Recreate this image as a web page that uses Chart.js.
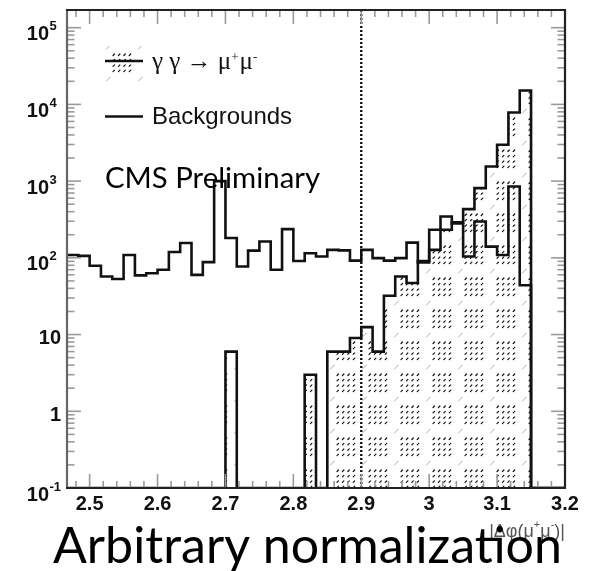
<!DOCTYPE html>
<html><head><meta charset="utf-8">
<script src="https://cdn.jsdelivr.net/npm/chart.js@4/dist/chart.umd.min.js"></script>
<style>html,body{margin:0;padding:0;background:#fff}#wrap{width:593px;height:571px}</style>
</head><body><div id="wrap"><canvas id="c" width="593" height="571"></canvas></div>
<script>
// ---------------- data ----------------
const binLow = 2.4667;      // lower edge of first bin
const binHigh = 3.2;        // upper edge of last bin
const nBins = 44;
const backgroundCounts = [109,106,79,57,53,109,59,63,70,119,156,60,88,1000,181,77,124,163,70,237,91,115,104,127,125,92,127,99,92,99,158,87,232,346,280,104,297,140,109,851,44,0,0,0];
const signalCounts = [0,0,0,0,0,0,0,0,0,0,0,0,0,0,6,0,0,0,0,0,0,3,0,6,6,9,12.5,6,32,57,47,91,127,232,290,431,811,1552,2978,7850,15200,0,0,0];
const cutValue = 2.9;
const xTickValues = [2.5,2.6,2.7,2.8,2.9,3.0,3.1,3.2];
const xTickLabels = ['2.5','2.6','2.7','2.8','2.9','3','3.1','3.2'];
const yTickValues = [0.1,1,10,100,1000,10000,100000];
const yTickBases = ['10','1','10','10','10','10','10'];
const yTickExps  = ['-1','','','2','3','4','5'];
const legendSignal = ['γ γ → μ','+','μ','-'];
const legendBackground = 'Backgrounds';
const xTitleParts = ['|Δφ(μ','+','μ','-',')|'];
const labelCMS = 'CMS Preliminary';
const labelNorm = 'Arbitrary normalization';
const yMin = 0.1, yMax = 1.7e5;

// ---------------- helpers ----------------
const edges = Array.from({length:nBins+1},(_,k)=>binLow + k*(binHigh-binLow)/nBins);
function stepPoints(counts){
  const pts = counts.map((v,k)=>({x:edges[k], y: v>0 ? v : yMin}));
  const last = counts[counts.length-1];
  pts.push({x:edges[nBins], y: last>0 ? last : yMin});
  return pts;
}
const canvas = document.getElementById('c');
const ctx0 = canvas.getContext('2d');
function makePattern(){
  const t = document.createElement('canvas'); t.width = 32; t.height = 32;
  const g = t.getContext('2d');
  g.strokeStyle = '#111'; g.lineWidth = 1.2; g.lineCap='round';
  for (let i=0;i<4;i++) for (let j=0;j<4;j++){
    const px = (17 + i*5.4) % 32, py = (22 + j*5.4) % 32;
    g.beginPath(); g.moveTo(px, py+1.5); g.lineTo(px+1.5, py); g.stroke();
  }
  g.strokeStyle = '#aaa'; g.lineWidth = 1;
  g.beginPath(); g.moveTo(10.5,17); g.lineTo(14.5,13); g.stroke();
  return ctx0.createPattern(t,'repeat');
}
const hatch = makePattern();

const deco = {
  id:'deco',
  afterDraw(chart){
    const {ctx, chartArea:a, scales:{x,y}} = chart;
    ctx.save();
    // ticks
    ctx.strokeStyle = '#9a9a9a'; ctx.lineWidth = 1.6;
    const tick = (x1,y1,x2,y2)=>{ctx.beginPath();ctx.moveTo(x1,y1);ctx.lineTo(x2,y2);ctx.stroke();};
    for (let e=-1;e<=5;e++){
      for (let m=1;m<=9;m++){
        const v = m*Math.pow(10,e);
        if (v < yMin*0.999 || v > yMax) continue;
        const py = y.getPixelForValue(v);
        const L = m===1 ? 14 : 7.5;
        tick(a.left, py, a.left+L, py);
        tick(a.right, py, a.right-L, py);
      }
    }
    for (let k=0;k<=36;k++){
      const v = 2.48 + k*0.02;
      if (v > binHigh+1e-9) break;
      const major = Math.abs(v*10 - Math.round(v*10)) < 1e-6;
      const px = x.getPixelForValue(v);
      const L = major ? 14 : 7;
      tick(px, a.bottom, px, a.bottom-L);
      tick(px, a.top, px, a.top+L);
    }
    // frame
    ctx.lineWidth = 2.2;
    ctx.strokeStyle = '#666';
    tick(a.left, a.top, a.left, a.bottom);
    ctx.strokeStyle = '#222';
    tick(a.left-1, a.top, a.right+1, a.top);
    tick(a.right, a.top, a.right, a.bottom+1);
    tick(a.left-1, a.bottom, a.right+1, a.bottom);

    // y tick labels
    ctx.fillStyle = '#111';
    const tf = 'bold 20px "Liberation Sans", Arial, sans-serif';
    yTickValues.forEach((v,i)=>{
      const py = y.getPixelForValue(v);
      ctx.textBaseline='middle';
      if (yTickExps[i]){
        ctx.font = tf; ctx.textAlign='right';
        ctx.fillText(yTickBases[i], 49, py+7);
        ctx.font = 'bold 13px "Liberation Sans", Arial, sans-serif';
        ctx.textAlign='left';
        ctx.fillText(yTickExps[i], 49.5, py-1);
      } else {
        ctx.font = tf; ctx.textAlign='right';
        ctx.fillText(yTickBases[i], 61, py+4);
      }
    });
    // x tick labels
    ctx.font = tf;
    ctx.textAlign='center'; ctx.textBaseline='middle';
    xTickValues.forEach((v,i)=>{
      ctx.fillText(xTickLabels[i], x.getPixelForValue(v), a.bottom+16);
    });

    // x axis title (right aligned)
    ctx.fillStyle = '#555';
    ctx.textAlign='left'; ctx.textBaseline='alphabetic';
    const fBig = '18px "Liberation Sans", Arial, sans-serif', fSm = '11px "Liberation Sans", Arial, sans-serif';
    const parts = xTitleParts.map((t,i)=>({t, sup: i===1||i===3}));
    let tw = 0; parts.forEach(p=>{ctx.font = p.sup?fSm:fBig; p.w = ctx.measureText(p.t).width; tw += p.w;});
    let cx = a.right - tw; const by = a.bottom + 49;
    parts.forEach(p=>{ctx.font = p.sup?fSm:fBig; ctx.fillText(p.t, cx, p.sup? by-9 : by); cx += p.w;});

    // legend
    ctx.fillStyle = hatch; ctx.fillRect(105, 46, 38, 35);
    ctx.strokeStyle = '#111'; ctx.lineWidth = 2.5;
    tick(105, 61, 143, 61);
    tick(105, 116.5, 143, 116.5);
    ctx.fillStyle = '#111';
    const sF = '25px "Liberation Serif", "Times New Roman", serif', sS = '13px "Liberation Serif", serif';
    let lx = 152;
    legendSignal.forEach((t,i)=>{
      const sup = (i===1||i===3);
      ctx.font = sup ? sS : sF;
      ctx.fillText(t, lx, sup ? 61 : 69);
      lx += ctx.measureText(t).width + (sup?1:0);
    });
    ctx.font = '24px "Liberation Sans", Arial, sans-serif';
    ctx.textBaseline = 'middle';
    ctx.fillText(legendBackground, 152, 117);

    // big labels
    ctx.textBaseline = 'alphabetic';
    const fit = (txt, x0, yb, w, font)=>{
      ctx.font = font; const m = ctx.measureText(txt).width;
      ctx.save(); ctx.translate(x0, yb); ctx.scale(w/m, 1); ctx.fillText(txt, 0, 0); ctx.restore();
    };
    ctx.fillStyle = '#000';
    fit(labelCMS, 105, 188, 215, '28px Lato, "Open Sans", sans-serif');
    fit(labelNorm, 53, 563, 509, '51px Lato, "Open Sans", sans-serif');
    ctx.restore();
  }
};

new Chart(canvas, {
  type:'line',
  data:{
    datasets:[
      {label:'Backgrounds', data: stepPoints(backgroundCounts), borderColor:'#111', borderWidth:2.6,
       stepped:'before', pointRadius:0, fill:false, order:0},
      {label:'signal', data: stepPoints(signalCounts), borderColor:'#111', borderWidth:2.6,
       stepped:'before', pointRadius:0, fill:'start', backgroundColor:hatch, order:1},
      {label:'cut', data:[{x:cutValue,y:yMin},{x:cutValue,y:yMax}], borderColor:'#111', borderWidth:2.4,
       borderDash:[2,2], pointRadius:0, fill:false, order:2}
    ]
  },
  options:{
    responsive:false, maintainAspectRatio:false, animation:false, devicePixelRatio:1,
    layout:{padding:{left:67, right:28, top:10, bottom:83}},
    plugins:{legend:{display:false}, tooltip:{enabled:false}},
    scales:{
      x:{type:'linear', min:binLow, max:binHigh, bounds:'data', display:false},
      y:{type:'logarithmic', min:yMin, max:yMax, bounds:'data', display:false}
    }
  },
  plugins:[deco]
});
</script></body></html>
